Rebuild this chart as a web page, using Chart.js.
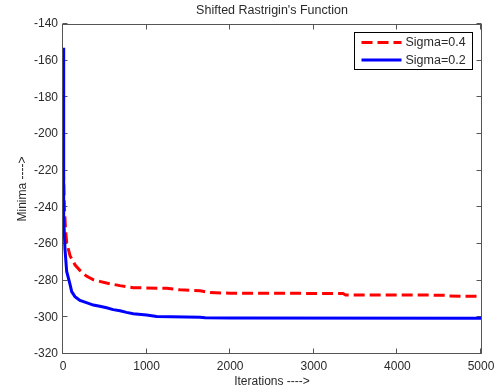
<!DOCTYPE html>
<html>
<head>
<meta charset="utf-8">
<script src="https://cdn.jsdelivr.net/npm/chart.js@4"></script>
<style>
  html, body { margin: 0; padding: 0; background: #fff; }
  canvas { display: block; }
</style>
</head>
<body>
<canvas id="c" width="497" height="389"></canvas>
<script>
// ---------- Data ----------
const iters04 = [0, 15, 30, 45, 85, 145, 205, 280, 365, 450, 520, 600, 680, 760, 840, 1000, 1240, 1400, 1640, 1760, 2000, 3350, 3380, 4590, 4620, 5000];
const sigma04 = [-210, -238, -252, -259.5, -266.5, -271.5, -274.5, -277.5, -279.5, -280.5, -281.3, -282, -282.7, -283.3, -283.8, -284, -284.2, -285, -285.5, -286.5, -286.8, -287, -287.8, -287.9, -288.4, -288.5];

const iters02 = [0, 8, 24, 44, 84, 104, 143, 203, 280, 363, 440, 522, 600, 682, 760, 840, 1000, 1120, 1640, 1700, 2000, 5000];
const sigma02 = [-153, -245, -263, -275, -282, -286, -288.7, -290.8, -292, -293.3, -294, -294.8, -295.8, -296.4, -297.3, -298, -298.7, -299.6, -299.9, -300.2, -300.4, -300.5];

const labels = ["Sigma=0.4", "Sigma=0.2"];
const xRange = [0, 5000], xStep = 1000;
const yRange = [-320, -140], yStep = 20;

const FONT = "'Liberation Sans', Arial, sans-serif";
const TXT = "#2a2a2a";

const pts = (xs, ys) => xs.map((x, i) => ({ x, y: ys[i] }));

// axes box with inward ticks (matlab look)
const boxPlugin = {
  id: "box",
  beforeDatasetsDraw(chart) {
    const { ctx, chartArea: a, scales } = chart;
    const L = Math.floor(a.left) - 0.5, R = Math.floor(a.right) + 0.5;
    const T = Math.floor(a.top) + 0.5, B = Math.floor(a.bottom) - 0.5;
    ctx.save();
    ctx.strokeStyle = "#555";
    ctx.lineWidth = 1;
    ctx.strokeRect(L, T, R - L, B - T);
    ctx.beginPath();
    scales.x.ticks.forEach((t) => {
      const px = Math.round(scales.x.getPixelForValue(t.value)) - 0.5;
      ctx.moveTo(px, B); ctx.lineTo(px, B - 5);
      ctx.moveTo(px, T); ctx.lineTo(px, T + 5);
    });
    scales.y.ticks.forEach((t) => {
      const py = Math.round(scales.y.getPixelForValue(t.value)) - 0.5;
      ctx.moveTo(L, py); ctx.lineTo(L + 5, py);
      ctx.moveTo(R, py); ctx.lineTo(R - 5, py);
    });
    ctx.stroke();
    ctx.restore();
  },
};

// boxed legend in the top-right corner
const legendPlugin = {
  id: "boxLegend",
  afterDatasetsDraw(chart) {
    const { ctx, chartArea: a } = chart;
    const w = 118, h = 37;
    const x0 = Math.floor(a.right) - 9 - w + 0.5, y0 = Math.floor(a.top) + 8 + 0.5;
    ctx.save();
    ctx.fillStyle = "#fff";
    ctx.fillRect(x0, y0, w, h);
    ctx.strokeStyle = "#000";
    ctx.lineWidth = 1;
    ctx.strokeRect(x0, y0, w, h);
    ctx.font = "12.5px " + FONT;
    ctx.textBaseline = "middle";
    chart.data.datasets.forEach((ds, i) => {
      const y = y0 + 10 + i * 17.6;
      ctx.beginPath();
      ctx.strokeStyle = ds.borderColor;
      ctx.lineWidth = ds.borderWidth;
      ctx.setLineDash(ds.borderDash || []);
      ctx.moveTo(x0 + 7, y);
      ctx.lineTo(x0 + 47, y);
      ctx.stroke();
      ctx.setLineDash([]);
      ctx.fillStyle = TXT;
      ctx.fillText(ds.label, x0 + 51, y);
    });
    ctx.restore();
  },
};

new Chart(document.getElementById("c"), {
  type: "line",
  data: {
    datasets: [
      {
        label: labels[0],
        data: pts(iters04, sigma04),
        borderColor: "#ff0000",
        borderWidth: 3,
        borderDash: [11, 5],
        pointRadius: 0,
        tension: 0,
        order: 1,
      },
      {
        label: labels[1],
        data: pts(iters02, sigma02),
        borderColor: "#0000ff",
        borderWidth: 3,
        pointRadius: 0,
        tension: 0,
        order: 0,
      },
    ],
  },
  options: {
    responsive: false,
    animation: false,
    events: [],
    layout: { padding: { left: 0, right: 16, top: 0, bottom: 0 } },
    plugins: {
      legend: { display: false },
      tooltip: { enabled: false },
      title: {
        display: true,
        fullSize: false,
        text: "Shifted Rastrigin's Function",
        color: TXT,
        font: { family: FONT, size: 12.5, weight: "normal", lineHeight: 1.2 },
        padding: { top: 3.5, bottom: 5.5 },
      },
    },
    scales: {
      x: {
        type: "linear",
        min: xRange[0],
        max: xRange[1],
        grid: { display: false, drawTicks: false },
        border: { display: false },
        ticks: {
          stepSize: xStep,
          padding: 5,
          color: TXT,
          maxRotation: 0,
          font: { family: FONT, size: 12 },
          callback: (v) => String(v),
        },
        title: {
          display: true,
          text: "Iterations ---->",
          color: TXT,
          font: { family: FONT, size: 12 },
          padding: { top: 0, bottom: 0.5 },
        },
        afterFit: (s) => {
          s.height = 35;
          s.paddingLeft = 0;
          s.paddingRight = 0;
        },
      },
      y: {
        type: "linear",
        min: yRange[0],
        max: yRange[1],
        grid: { display: false, drawTicks: false },
        border: { display: false },
        ticks: {
          stepSize: yStep,
          padding: 5,
          color: TXT,
          font: { family: FONT, size: 12 },
          callback: (v) => String(v),
        },
        title: {
          display: true,
          text: "Minima ---->",
          color: TXT,
          font: { family: FONT, size: 12 },
          padding: { top: 15.4, bottom: 0 },
        },
        afterFit: (s) => {
          s.width = 63;
          s.paddingTop = 0;
          s.paddingBottom = 0;
        },
      },
    },
  },
  plugins: [boxPlugin, legendPlugin],
});
</script>
</body>
</html>
